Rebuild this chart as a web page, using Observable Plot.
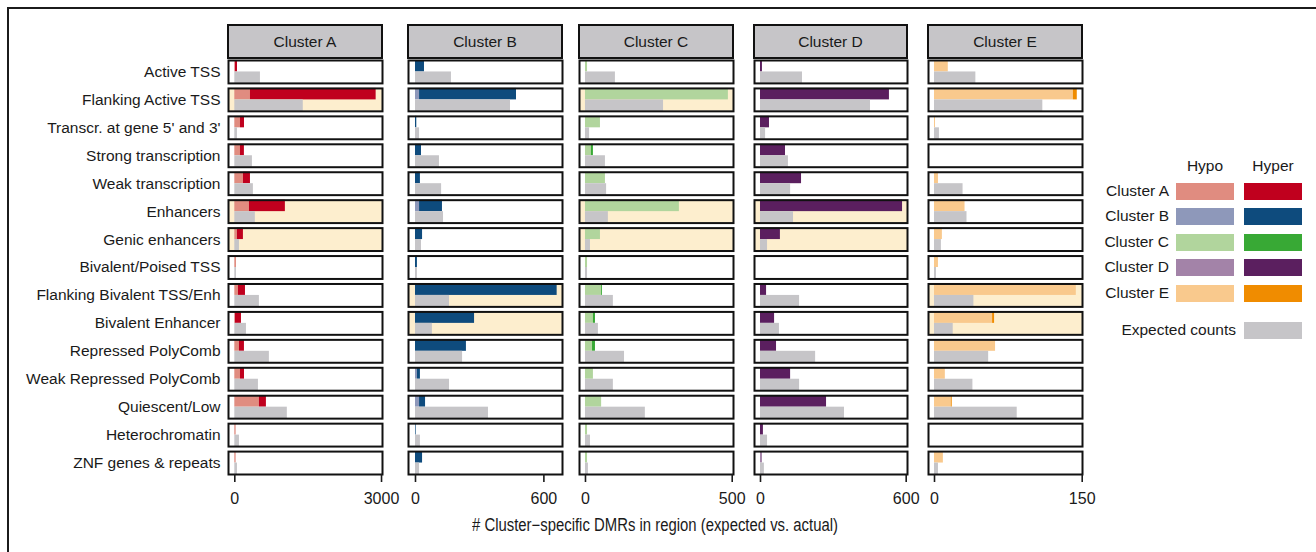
<!DOCTYPE html>
<html><head><meta charset="utf-8">
<script src="https://cdn.jsdelivr.net/npm/d3@7"></script>
<script src="https://cdn.jsdelivr.net/npm/@observablehq/plot@0.6"></script>
<style>
html,body{margin:0;padding:0;background:#fff;overflow:hidden;}
#root{position:relative;width:1316px;height:552px;overflow:hidden;font-family:"Liberation Sans",Arial,Helvetica,sans-serif;color:#1a1a1a;}
.abs{position:absolute;}
.border{left:7px;top:7px;width:1400px;height:700px;border-left:2px solid #1b1b1b;border-top:2px solid #1b1b1b;}
.strip{box-sizing:border-box;background:#c6c5c8;border:2px solid #111;display:flex;align-items:center;justify-content:center;font-size:15.5px;}
.lg{font-size:15.5px;white-space:nowrap;line-height:18px;}
.sw{height:17px;}
.xtitle{font-family:"Liberation Sans Narrow","Liberation Sans",Arial,sans-serif;font-size:17.5px;white-space:nowrap;transform-origin:0 0;}
svg{position:absolute;overflow:visible;}
</style></head>
<body><div id="root"><div class="abs border"></div></div>
<script>
const states = ["Active TSS","Flanking Active TSS","Transcr. at gene 5' and 3'","Strong transcription","Weak transcription","Enhancers","Genic enhancers","Bivalent/Poised TSS","Flanking Bivalent TSS/Enh","Bivalent Enhancer","Repressed PolyComb","Weak Repressed PolyComb","Quiescent/Low","Heterochromatin","ZNF genes & repeats"];
const clusters = ["Cluster A","Cluster B","Cluster C","Cluster D","Cluster E"];

const hypoA     = [10, 320, 116, 116, 177, 300, 54, 34, 75, 10, 95, 116, 503, 27, 27];
const hyperA    = [45, 2570, 82, 80, 143, 734, 122, 0, 143, 126, 102, 82, 143, 0, 0];
const expectedA = [524, 1400, 54, 360, 380, 420, 95, 34, 503, 238, 707, 483, 1074, 95, 54];

const hypoB     = [0, 19, 0, 0, 0, 19, 0, 0, 0, 0, 0, 9, 19, 0, 0];
const hyperB    = [42, 453, 6, 28, 23, 107, 33, 9, 662, 276, 238, 14, 28, 3, 33];
const expectedB = [168, 444, 19, 112, 122, 131, 28, 9, 159, 79, 220, 159, 341, 23, 19];

const hypoC     = [7, 487, 51, 20, 68, 320, 51, 7, 55, 27, 24, 27, 55, 7, 7];
const hyperC    = [0, 0, 0, 7, 0, 0, 0, 0, 3, 7, 10, 0, 0, 0, 0];
const expectedC = [102, 266, 14, 68, 72, 78, 17, 7, 95, 44, 133, 95, 204, 17, 10];

const hypoD     = [0, 0, 0, 0, 0, 0, 0, 0, 0, 0, 0, 0, 0, 0, 8];
const hyperD    = [8, 531, 37, 103, 169, 585, 82, 0, 25, 58, 66, 124, 272, 12, 0];
const expectedD = [173, 453, 21, 115, 124, 136, 29, 0, 161, 78, 227, 161, 346, 29, 16];

const hypoE     = [14, 141, 1, 0, 4, 31, 8, 4, 144, 59, 62, 11, 17, 0, 9];
const hyperE    = [0, 4, 0, 0, 0, 0, 0, 0, 0, 2, 0, 0, 1, 0, 0];
const expectedE = [42, 110, 5, 0, 29, 33, 7, 2, 40, 19, 55, 39, 84, 0, 4];

const highlightA = ["Flanking Active TSS","Enhancers","Genic enhancers"];
const highlightB = ["Flanking Bivalent TSS/Enh","Bivalent Enhancer"];
const highlightC = ["Flanking Active TSS","Enhancers","Genic enhancers"];
const highlightD = ["Enhancers","Genic enhancers"];
const highlightE = ["Flanking Bivalent TSS/Enh","Bivalent Enhancer"];

const tickMax = [3000, 600, 500, 600, 150];
const xDomains = [[-129, 3020], [-32.7, 687], [-20.4, 504.4], [-24.7, 605.4], [-6.1, 150.3]];

const hypoColors  = ["#e08c80", "#8e98ba", "#b1d59d", "#a383a8", "#f9c98d"];
const hyperColors = ["#c0001e", "#0e4b7d", "#38a935", "#5b1f5f", "#f08c00"];
const expectedColor = "#c6c5c8";
const highlightColor = "#fdeece";

const hypoAll = [hypoA, hypoB, hypoC, hypoD, hypoE];
const hyperAll = [hyperA, hyperB, hyperC, hyperD, hyperE];
const expectedAll = [expectedA, expectedB, expectedC, expectedD, expectedE];
const highlightAll = [highlightA, highlightB, highlightC, highlightD, highlightE];

// layout (pixel positions of each panel frame, centre of border)
const frameL = [228, 408, 579, 754, 928];
const frameR = [382, 562, 733, 907, 1082];

const root = document.getElementById("root");
const svgTop = 50, mt = 10, mb = 45, panelH = 414;

clusters.forEach((name, k) => {
  const rows = states.flatMap((s, i) => [
    {state: s, bar: "obs", type: "Hypo", value: hypoAll[k][i]},
    {state: s, bar: "obs", type: "Hyper", value: hyperAll[k][i]},
    {state: s, bar: "exp", type: "Expected", value: expectedAll[k][i]}
  ]);
  const ml = k === 0 ? 228 : 20, mr = 24;
  const [lo, hi] = xDomains[k];
  const fyBase = {domain: states, paddingInner: 0.18, paddingOuter: 0, round: false, label: null};
  const plot = Plot.plot({
    width: ml + (frameR[k] - frameL[k]) + mr,
    height: mt + panelH + mb,
    marginLeft: ml, marginRight: mr, marginTop: mt, marginBottom: mb,
    x: {domain: xDomains[k]},
    y: {domain: ["obs", "exp"], padding: 0, round: false, axis: null},
    fy: k === 0 ? {...fyBase, axis: "left", tickSize: 0, tickPadding: 8} : {...fyBase, axis: null},
    color: {domain: ["Hypo", "Hyper", "Expected"], range: [hypoColors[k], hyperColors[k], expectedColor]},
    style: {fontSize: "15.5px", fontFamily: "'Liberation Sans', Arial, Helvetica, sans-serif", color: "#1a1a1a", background: "transparent", overflow: "visible"},
    marks: [
      Plot.barX(highlightAll[k], {x1: lo, x2: hi, fy: d => d, fill: highlightColor}),
      Plot.barX(rows, {x: "value", y: "bar", fy: "state", fill: "type"}),
      Plot.frame({stroke: "#111", strokeWidth: 2}),
      Plot.axisX({ticks: [0, tickMax[k]], tickFormat: d => String(d), tickSize: 8, tickPadding: 10, label: null, strokeWidth: 1.6, fontSize: 16})
    ]
  });
  plot.style.left = (frameL[k] - ml) + "px";
  plot.style.top = svgTop + "px";
  root.appendChild(plot);

  const strip = document.createElement("div");
  strip.className = "abs strip";
  strip.style.left = (frameL[k] - 1) + "px";
  strip.style.top = "24px";
  strip.style.width = (frameR[k] - frameL[k] + 2) + "px";
  strip.style.height = "35px";
  strip.textContent = name;
  root.appendChild(strip);
});

// axis title (condensed to the reference's narrow face)
const xt = document.createElement("div");
xt.className = "abs xtitle";
xt.textContent = "# Cluster\u2212specific DMRs in region (expected vs. actual)";
xt.style.top = "515px";
root.appendChild(xt);
const w = xt.getBoundingClientRect().width;
const targetW = 366;
xt.style.left = (655 - targetW / 2) + "px";
xt.style.transform = `scaleX(${targetW / w})`;

// legend
function addText(txt, x, yc, align) {
  const d = document.createElement("div");
  d.className = "abs lg";
  d.textContent = txt;
  d.style.top = (yc - 9) + "px";
  if (align === "right") { d.style.right = (1316 - x) + "px"; }
  else { d.style.left = x + "px"; d.style.transform = "translateX(-50%)"; }
  root.appendChild(d);
}
function addSwatch(color, x, yc) {
  const d = document.createElement("div");
  d.className = "abs sw";
  d.style.left = x + "px"; d.style.width = "58px";
  d.style.top = (yc - 8.5) + "px"; d.style.background = color;
  root.appendChild(d);
}
addText("Hypo", 1205, 166, "center");
addText("Hyper", 1273, 166, "center");
const legendY = [191, 216, 242, 267, 293];
clusters.forEach((c, k) => {
  addText(c, 1169, legendY[k], "right");
  addSwatch(hypoColors[k], 1176, legendY[k]);
  addSwatch(hyperColors[k], 1244, legendY[k]);
});
addText("Expected counts", 1236, 330, "right");
addSwatch(expectedColor, 1244, 330);
</script>
</body></html>
